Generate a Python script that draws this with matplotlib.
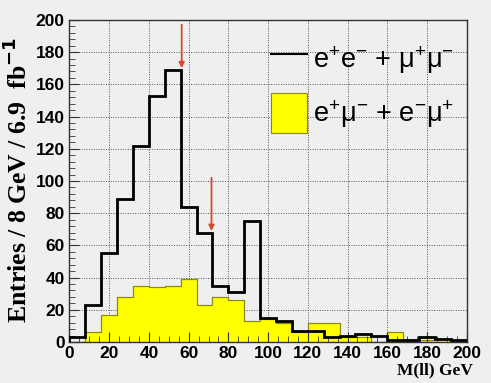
import numpy as np
import matplotlib.pyplot as plt
from matplotlib.patches import Patch
from matplotlib.lines import Line2D
from matplotlib.ticker import MultipleLocator

plt.rcParams['mathtext.fontset'] = 'custom'
plt.rcParams['mathtext.rm'] = 'Liberation Sans'
plt.rcParams['mathtext.it'] = 'Liberation Sans'

# 8 GeV bins from 0 to 200
edges = np.arange(0, 201, 8)
same_flavour = [3, 23, 55, 89, 122, 153, 169, 84, 68, 35, 31, 75, 15,
                13, 7, 7, 3, 4, 5, 4, 1, 1, 3, 2, 1]
opp_flavour = [0, 6, 17, 28, 35, 34, 35, 39, 23, 28, 26, 13, 14,
               12, 6, 12, 12, 3, 3, 0, 6, 1, 1, 2, 0]
# red arrows: x position, length (entries above bin top)
arrow_x = [56.5, 71.5]
arrow_len = [27, 33]

bg = '#efefef'
fig = plt.figure(figsize=(4.91, 3.83), dpi=100, facecolor=bg)
ax = fig.add_axes([0.1415, 0.107, 0.809, 0.841])
ax.set_facecolor(bg)

ax.set_xlim(0, 200)
ax.set_ylim(0, 200)
ax.xaxis.set_major_locator(MultipleLocator(20))
ax.yaxis.set_major_locator(MultipleLocator(20))
ax.xaxis.set_minor_locator(MultipleLocator(5))
ax.yaxis.set_minor_locator(MultipleLocator(4))

# dotted grid drawn underneath the histograms
xt = ax.get_xticks()
yt = ax.get_yticks()
ax.vlines(xt[(xt > 0) & (xt < 200)], 0, 200, colors='#555555', linestyles=(0, (1, 1.5)),
          lw=0.7, zorder=0.5)
ax.hlines(yt[(yt > 0) & (yt < 200)], 0, 200, colors='#555555', linestyles=(0, (1, 1.5)),
          lw=0.7, zorder=0.5)

ax.stairs(opp_flavour, edges, fill=True, facecolor='#ffff00', edgecolor='#8a8a10',
          lw=0.8, zorder=1)
ax.stairs(opp_flavour, edges, color='#8a8a10', lw=0.8, zorder=1.1)
ax.stairs(same_flavour, edges, color='black', lw=2, baseline=0, zorder=3)

for x, ln in zip(arrow_x, arrow_len):
    top = same_flavour[int(round(x / 8)) - 1] + 1
    ax.annotate('', xy=(x, top), xytext=(x, top + ln),
                arrowprops=dict(arrowstyle='-|>', color='#d8482a', lw=1.3,
                                mutation_scale=8, shrinkA=0, shrinkB=0))

for s in ax.spines.values():
    s.set_color('#333333')
    s.set_linewidth(1)
ax.tick_params(which='both', direction='in', top=False, right=False,
               colors='#333333', zorder=4)
ax.tick_params(which='major', length=7, labelsize=12.5, labelcolor='black')
ax.tick_params(which='minor', length=4)
for lab in ax.get_xticklabels() + ax.get_yticklabels():
    lab.set_fontfamily('Liberation Sans')
    lab.set_fontweight('bold')
ax.tick_params(axis='x', pad=3)

fig.text(0.036, 0.53, 'Entries / 8 GeV / 6.9  fb$^{\\mathbf{-1}}$', family='Liberation Serif',
         fontweight='bold', fontsize=18.5, rotation=90, ha='center', va='center')
fig.text(0.963, 0.012, 'M(ll) GeV', family='Liberation Serif', fontweight='bold',
         fontsize=12.5, ha='right', va='bottom')

handles = [Line2D([], [], color='black', lw=1.5),
           Patch(facecolor='#ffff00', edgecolor='#8a8a10', lw=0.8)]
labels = ['e$^{+}$e$^{-}$ + μ$^{+}$μ$^{-}$', 'e$^{+}$μ$^{-}$ + e$^{-}$μ$^{+}$']
leg = ax.legend(handles, labels, loc='upper right', bbox_to_anchor=(1.01, 0.99),
                frameon=False, handlelength=1.3, handleheight=1.9,
                handletextpad=0.25, labelspacing=0.5, borderaxespad=0.2,
                prop={'family': 'Liberation Sans', 'size': 19.5})

fig.savefig('out.png', dpi=100, facecolor=bg)
